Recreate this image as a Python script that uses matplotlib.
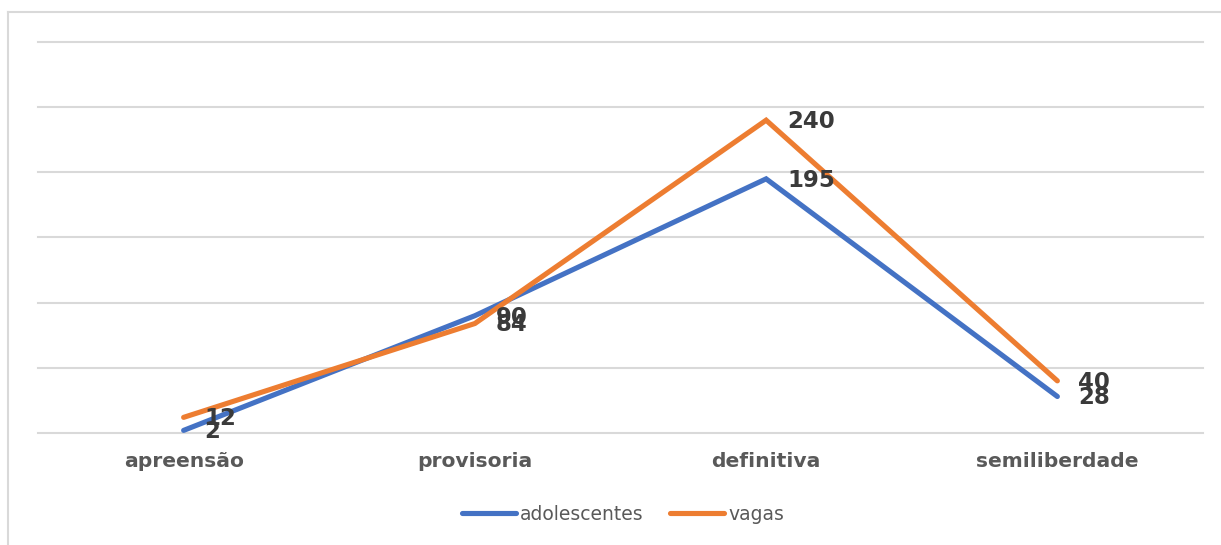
import matplotlib
matplotlib.use("Agg")
import matplotlib.pyplot as plt
from matplotlib.lines import Line2D

categories = ["apreensão", "provisoria", "definitiva", "semiliberdade"]
adolescentes = [2, 90, 195, 28]
vagas = [12, 84, 240, 40]
series_names = ["adolescentes", "vagas"]
colors = ["#4472C4", "#ED7D31"]

W, H = 1221, 545
fig = plt.figure(figsize=(W / 100, H / 100), dpi=100)
fig.patch.set_facecolor("white")

# outer frame (left and top only visible)
fig.add_artist(Line2D([8 / W, 8 / W], [0, 1 - 12 / H], transform=fig.transFigure,
                      color="#d9d9d9", lw=1.5))
fig.add_artist(Line2D([8 / W, 1], [1 - 12 / H, 1 - 12 / H], transform=fig.transFigure,
                      color="#d9d9d9", lw=1.5))

ax = fig.add_axes([38 / W, 112 / H, (1203 - 38) / W, (433 - 42) / H])
ax.set_xlim(-0.5, len(categories) - 0.5)
ax.set_ylim(0, 300)
ax.set_yticks(range(0, 301, 50))
ax.yaxis.grid(True, color="#d9d9d9", lw=1.5)
ax.set_axisbelow(True)
for s in ax.spines.values():
    s.set_visible(False)
ax.tick_params(axis="y", left=False, labelleft=False)
ax.tick_params(axis="x", bottom=False, pad=10)
x = list(range(len(categories)))
ax.set_xticks(x)
ax.set_xticklabels(categories, fontsize=14.6, fontweight="bold", color="#595959",
                   family="DejaVu Sans")
fig.canvas.draw()
for gl in ax.get_ygridlines():
    gl.set_clip_on(False)

for vals, name, c in zip([adolescentes, vagas], series_names, colors):
    ax.plot(x, vals, color=c, lw=3.7, solid_capstyle="round",
            solid_joinstyle="miter", label=name, clip_on=False)
    for xi, v in zip(x, vals):
        ax.annotate(str(v), (xi, v), xytext=(15, -1), textcoords="offset points",
                    ha="left", va="center", fontsize=16.5, fontweight="bold",
                    color="#3a3a3a", family="DejaVu Sans")

leg = fig.legend(loc="center", bbox_to_anchor=(623 / W, 1 - 514 / H), ncol=2,
                 frameon=False, fontsize=13.5, handlelength=2.9, handletextpad=0.2,
                 columnspacing=1.4, labelcolor="#595959")

fig.savefig("out.png", dpi=100, facecolor="white")
